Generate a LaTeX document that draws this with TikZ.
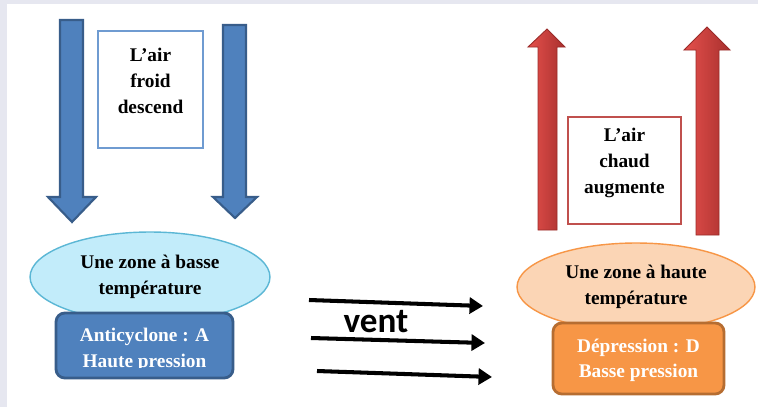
\documentclass[tikz,border=0pt]{standalone}
\usepackage{fontspec}
\setmainfont{Liberation Serif}
\newfontfamily\ventfont{Carlito}
\usetikzlibrary{shapes.geometric,arrows.meta}

\definecolor{pagegray}{HTML}{E6E7F0}
\definecolor{bluefill}{HTML}{4F81BD}
\definecolor{blueline}{HTML}{385D8A}
\definecolor{bluebox}{HTML}{6F9BD1}
\definecolor{redlight}{HTML}{E5504C}
\definecolor{reddark}{HTML}{A8302E}
\definecolor{redline}{HTML}{9A2B29}
\definecolor{redbox}{HTML}{C0504D}
\definecolor{coldfill}{HTML}{C2ECFA}
\definecolor{coldline}{HTML}{5BB7D5}
\definecolor{warmfill}{HTML}{FBD5B5}
\definecolor{warmline}{HTML}{F79646}
\definecolor{orangefill}{HTML}{F79646}
\definecolor{orangeline}{HTML}{B66D31}

\tikzset{
  downarrow/.style={fill=bluefill, draw=blueline, line width=1.2pt, line join=miter},
  uparrow/.style={left color=redlight, right color=reddark, draw=redline, line width=0.5pt},
  airbox/.style={draw, fill=white, line width=1.6pt, inner sep=0pt},
  airtext/.style={font=\fontsize{11}{14.8}\selectfont\bfseries, align=center},
  zone/.style={ellipse, line width=0.8pt, inner sep=0pt,
    font=\fontsize{11}{15}\selectfont\bfseries, align=center},
  pression/.style={rounded corners=5pt, line width=1.6pt, inner sep=0pt},
  pressiontext/.style={text=white, font=\fontsize{11}{14.5}\selectfont\bfseries, align=center},
  wind/.style={line width=2.3pt, -{Triangle[length=0.27cm,width=0.32cm]}},
}

\begin{document}
\begin{tikzpicture}[x=0.02cm,y=-0.02cm]
  \useasboundingbox (0,0) rectangle (758,407);
  \fill[pagegray] (0,0) rectangle (758,407);
  \fill[white] (7,4) rectangle (758,407);

  % air froid
  \draw[downarrow] (60,20) -- (83,20) -- (83,197) -- (96,197) -- (72,222) -- (48,197) -- (60,197) -- cycle;
  \draw[downarrow] (223,25) -- (246,25) -- (246,197) -- (257,197) -- (235,218) -- (213,197) -- (223,197) -- cycle;
  \node[airbox, draw=bluebox, minimum width=2.1cm, minimum height=2.34cm] (froidbox) at (150.5,89.5) {};
  \node[airtext] (froid) at (150.5,81) {L'air\\froid\\descend};

  % air chaud
  \draw[uparrow] (538,230) -- (538,47) -- (528,47) -- (547,29) -- (565,47) -- (557,47) -- (557,230) -- cycle;
  \draw[uparrow] (696,235) -- (696,50) -- (684,50) -- (707,27) -- (730,50) -- (719,50) -- (719,235) -- cycle;
  \node[airbox, draw=redbox, minimum width=2.26cm, minimum height=2.14cm] (chaudbox) at (624.5,170.5) {};
  \node[airtext] (chaud) at (624.5,163) {L'air\\chaud\\augmente};

  % zones
  \node[zone, fill=coldfill, draw=coldline, minimum width=4.8cm, minimum height=1.8cm] (froide) at (150,277) {Une zone à basse\\température};
  \node[zone, fill=warmfill, draw=warmline, minimum width=4.76cm, minimum height=1.76cm] (chaude) at (636,287) {Une zone à haute\\température};

  \node[pression, fill=bluefill, draw=blueline, minimum width=3.54cm, minimum height=1.3cm] (anti) at (144.5,345.5) {};
  \begin{scope}
    \clip (56,313) rectangle (233,367);
    \node[pressiontext] (antitext) at (144.5,350) {Anticyclone : A\\Haute pression};
  \end{scope}
  \node[pression, fill=orangefill, draw=orangeline, minimum width=3.42cm, minimum height=1.42cm] (depr) at (638.5,358.5) {};
  \node[pressiontext] (deprtext) at (638.5,360.5) {Dépression : D\\Basse pression};

  % vent
  \coordinate (w1s) at (309,300);
  \coordinate (w1e) at (483,306);
  \coordinate (w2s) at (311,338);
  \coordinate (w2e) at (485,343);
  \coordinate (w3s) at (317,371);
  \coordinate (w3e) at (492,377);
  \draw[wind] (w1s) -- (w1e);
  \draw[wind] (w2s) -- (w2e);
  \draw[wind] (w3s) -- (w3e);
  \node[font=\ventfont\fontsize{20}{24}\selectfont\bfseries] (vent) at (376,322) {vent};
\end{tikzpicture}
\end{document}
